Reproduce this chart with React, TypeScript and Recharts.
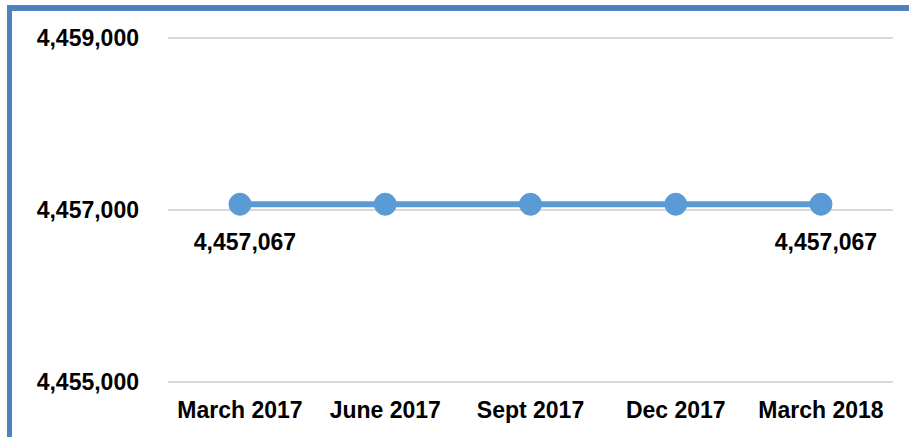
import React from "react";
import { LineChart, Line, XAxis, YAxis, CartesianGrid, LabelList } from "recharts";

const quarters = ["March 2017", "June 2017", "Sept 2017", "Dec 2017", "March 2018"];
const population = [4457067, 4457067, 4457067, 4457067, 4457067];
const yTicks = [4455000, 4457000, 4459000];

const data = quarters.map((name, i) => ({ name, value: population[i] }));

const FONT = "'Liberation Sans', Arial, sans-serif";
const fmt = (v: number) => v.toLocaleString("en-US");

const EndLabel = (props: any) => {
    const { x, y, value, index } = props;
    if (index !== 0 && index !== quarters.length - 1) return null;
    return (
        <text
            x={x + 5}
            y={y + 38}
            textAnchor="middle"
            dominantBaseline="central"
            fontFamily={FONT}
            fontWeight="bold"
            fontSize={23}
            fill="#000"
        >
            {fmt(value)}
        </text>
    );
};

export default function App() {
    return (
        <div style={{ position: "absolute", left: 0, top: 0, width: 909, height: 437, background: "#fff", overflow: "hidden" }}>
            <div
                style={{
                    position: "absolute",
                    left: 7,
                    top: 5,
                    width: 1200,
                    height: 800,
                    borderLeft: "5px solid #4F81BD",
                    borderTop: "6px solid #4F81BD",
                }}
            />
            <div style={{ position: "absolute", left: 0, top: 0 }}>
                <LineChart width={909} height={437} data={data} margin={{ top: 38, right: 16, bottom: 25, left: 0 }}>
                    <CartesianGrid vertical={false} stroke="#D9D9D9" strokeWidth={2} />
                    <XAxis
                        dataKey="name"
                        axisLine={false}
                        tickLine={false}
                        tickMargin={14}
                        padding={{ left: 72, right: 72 }}
                        tick={{ fontFamily: FONT, fontWeight: "bold", fontSize: 23, fill: "#000" }}
                        interval={0}
                    />
                    <YAxis
                        width={168}
                        domain={[4455000, 4459000]}
                        ticks={yTicks}
                        axisLine={false}
                        tickLine={false}
                        tickMargin={23}
                        tickFormatter={fmt}
                        tick={{ fontFamily: FONT, fontWeight: "bold", fontSize: 23, fill: "#000" }}
                    />
                    <Line
                        dataKey="value"
                        stroke="#5B9BD5"
                        strokeWidth={6}
                        dot={{ r: 11, fill: "#5B9BD5", stroke: "#5B9BD5", strokeWidth: 1 }}
                        isAnimationActive={false}
                    >
                        <LabelList dataKey="value" content={EndLabel} />
                    </Line>
                </LineChart>
            </div>
        </div>
    );
}
